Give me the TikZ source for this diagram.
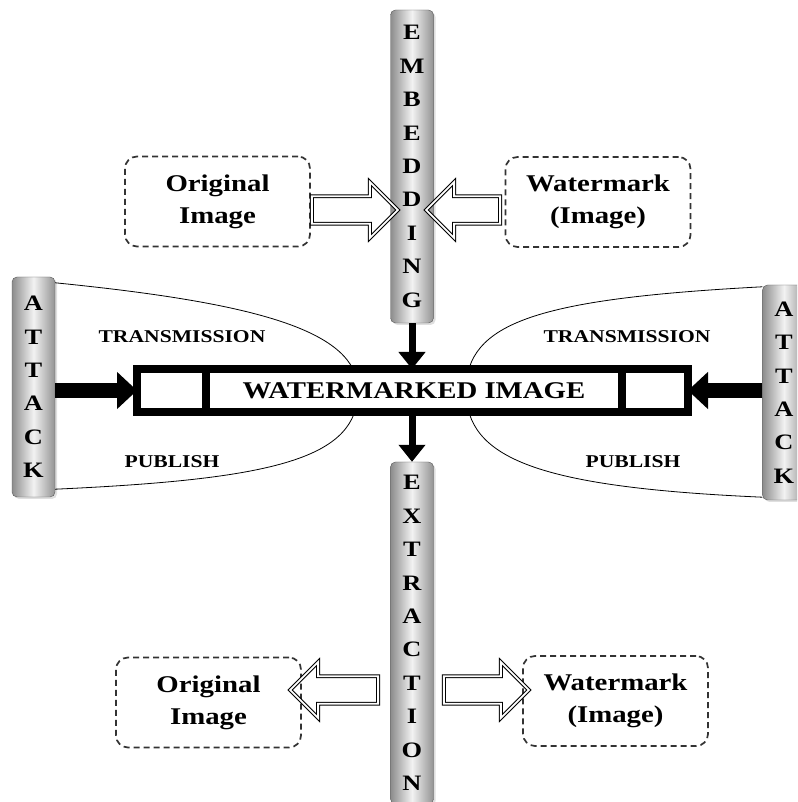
\documentclass[tikz,border=0pt]{standalone}
\usepackage{fontspec}
\setmainfont{Liberation Serif}[FakeStretch=1.2]
\usetikzlibrary{shapes.arrows, arrows.meta, shadows, positioning}
\tikzstyle{bar} = [rectangle, rounded corners=5pt, draw=gray!70!black, left color=gray!90, right color=gray!85, middle color=gray!10, minimum width=43pt, align=center, inner sep=0pt, font=\fontsize{22}{33.4}\selectfont\bfseries, drop shadow={opacity=.25, shadow xshift=2pt, shadow yshift=-2pt}]
\tikzstyle{io} = [rectangle, rounded corners=12pt, draw=black!80, dash pattern=on 6pt off 4pt, line width=1.7pt, minimum width=185pt, minimum height=90pt, align=center, font=\fontsize{24}{32}\selectfont\bfseries]
\tikzstyle{hollow} = [single arrow, draw=black, double=white, double distance=1.8pt, line width=1pt, inner xsep=0pt, inner ysep=13pt, minimum width=56pt, single arrow head extend=14pt, minimum height=86pt]
\tikzstyle{wmbox} = [rectangle, draw=black, line width=8pt, fill=white, minimum height=43pt, inner sep=0pt, outer sep=0pt, font=\fontsize{24}{28}\selectfont\bfseries]
\tikzstyle{arrow} = [line width=7pt, -{Triangle[length=17pt, width=26pt]}]
\tikzstyle{attack} = [line width=15pt, -{Triangle[length=20pt, width=36pt]}]
\tikzstyle{lbl} = [font=\fontsize{18}{20}\selectfont\bfseries]

\begin{document}
\begin{tikzpicture}[x=1pt,y=1pt]
\clip (0,0) rectangle (797,802);

\node[bar, minimum height=313pt] (embed) at (412,635.5) {E\\M\\B\\E\\D\\D\\I\\N\\G};
\node[bar, minimum height=342pt] (extract) at (412,169) {E\\X\\T\\R\\A\\C\\T\\I\\O\\N};
\node[bar, minimum height=220pt] (attackL) at (33.5,415) {A\\T\\T\\A\\C\\K};
\node[bar, minimum height=215pt] (attackR) at (784,409.5) {A\\T\\T\\A\\C\\K};

\node[io] (origT) at (217.5,600.5) {Original\\Image};
\node[io] (wmT) at (598,600) {Watermark\\(Image)};
\node[io] (origB) at (208.5,99.5) {Original\\Image};
\node[io] (wmB) at (615.5,101) {Watermark\\(Image)};

\node[hollow] (inT) at (348,592) {};
\node[hollow, shape border rotate=180, minimum height=74pt] (wmin) at (470,592) {};
\node[hollow, shape border rotate=180, minimum height=88pt] (outB) at (341,112) {};
\node[hollow, minimum height=85pt] (wmout) at (479.5,112) {};

\draw[thick] ([yshift=-6pt]attackL.north east) .. controls +(200,-20) and +(0,60) .. (358,411.5) .. controls +(0,-68) and +(220,10) .. ([yshift=8pt]attackL.south east);
\draw[thick] ([yshift=-2pt]attackR.north west) .. controls +(-225,-12) and +(0,68) .. (466,411.5) .. controls +(0,-68) and +(-225,10) .. ([yshift=3pt]attackR.south west);

\node[lbl] (transL) at (182,465) {TRANSMISSION};
\node[lbl] (transR) at (627,465) {TRANSMISSION};
\node[lbl] (pubL) at (172,340) {PUBLISH};
\node[lbl] (pubR) at (633,340) {PUBLISH};

\node[wmbox, minimum width=416pt] (wm) at (414,411.5) {WATERMARKED IMAGE};
\node[wmbox, minimum width=69pt, left=0pt of wm] (wmL) {};
\node[wmbox, minimum width=66pt, right=0pt of wm] (wmR) {};

\draw[arrow] (embed.south) -- (embed.south |- wm.north);
\draw[arrow] (wm.south -| extract.north) -- (extract.north);
\draw[attack] (attackL.east |- wmL.west) -- (wmL.west);
\draw[attack] (attackR.west |- wmR.east) -- (wmR.east);
\end{tikzpicture}
\end{document}
